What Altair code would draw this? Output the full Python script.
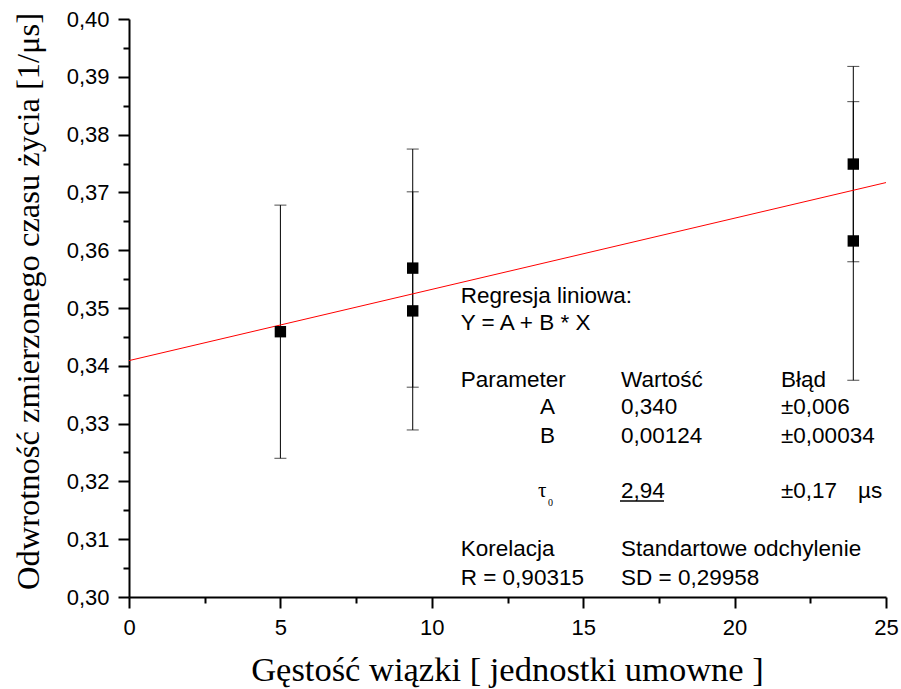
import altair as alt
import pandas as pd

# ---- data ----
beam_density = [5.0, 9.37, 9.37, 23.92, 23.92]
inv_lifetime = [0.3459, 0.3569, 0.3495, 0.3749, 0.3616]
inv_lifetime_err = [0.0219, 0.0206, 0.0206, 0.0169, 0.0241]

fit_x = [0.0, 25.0]
fit_y = [0.3409, 0.3717]

x_major_ticks = [0, 5, 10, 15, 20, 25]
x_minor_ticks = [2.5, 7.5, 12.5, 17.5, 22.5]
y_major_ticks = [0.30, 0.31, 0.32, 0.33, 0.34, 0.35, 0.36, 0.37, 0.38, 0.39, 0.40]
y_minor_ticks = [0.305, 0.315, 0.325, 0.335, 0.345, 0.355, 0.365, 0.375, 0.385, 0.395]

# annotation box (fit results), anchored in data coordinates
ann_text = ["Regresja liniowa:", "Y = A + B * X",
            "Parameter", "Wartość", "Błąd",
            "A", "0,340", "±0,006",
            "B", "0,00124", "±0,00034",
            "2,94", "±0,17", "µs",
            "Korelacja", "Standartowe odchylenie",
            "R = 0,90315", "SD = 0,29958"]
ann_x = [10.955, 10.955,
         10.955, 16.248, 21.532,
         13.573, 16.248, 21.532,
         13.573, 16.248, 21.532,
         16.248, 21.532, 24.075,
         10.955, 16.248,
         10.955, 16.248]
ann_y = [0.35092, 0.34619,
         0.33638, 0.33638, 0.33638,
         0.33166, 0.33166, 0.33166,
         0.32673, 0.32673, 0.32673,
         0.31708, 0.31708, 0.31708,
         0.30709, 0.30709,
         0.30208, 0.30208]

tau_text = ["τ"]
tau_x = [13.507]
tau_y = [0.31725]
tau_sub_text = ["0"]
tau_sub_x = [13.837]
tau_sub_y = [0.31574]
underline_x = [16.215]
underline_x2 = [17.668]
underline_y = [0.31661]

# ---- tables ----
pts = pd.DataFrame({"x": beam_density, "y": inv_lifetime, "err": inv_lifetime_err})
pts["lo"] = pts["y"] - pts["err"]
pts["hi"] = pts["y"] + pts["err"]
fit = pd.DataFrame({"x": fit_x, "y": fit_y})
ann = pd.DataFrame({"x": ann_x, "y": ann_y, "t": ann_text})
tau = pd.DataFrame({"x": tau_x, "y": tau_y, "t": tau_text})
tau_sub = pd.DataFrame({"x": tau_sub_x, "y": tau_sub_y, "t": tau_sub_text})
uline = pd.DataFrame({"x": underline_x, "x2": underline_x2, "y": underline_y})

xscale = alt.Scale(domain=[0, 25], nice=False, zero=False)
yscale = alt.Scale(domain=[0.30, 0.40], nice=False, zero=False)

common_axis = dict(grid=False, domainColor="black", domainWidth=2,
                   tickColor="black", tickWidth=2)

x_axis = alt.Axis(
    orient="bottom", values=x_major_ticks, tickSize=11, **common_axis,
    labelExpr="format(datum.value, 'd')",
    labelFont="Liberation Sans", labelFontSize=22, labelColor="black",
    labelPadding=9, labelOverlap=False, labelFlush=False,
    title="Gęstość wiązki [ jednostki umowne ]",
    titleFont="Liberation Serif", titleFontSize=34.5, titleFontWeight="normal",
    titleColor="black", titleBaseline="alphabetic", titleAlign="center",
    titleX=378, titleY=83,
)
y_axis = alt.Axis(
    orient="left", values=y_major_ticks, tickSize=11, **common_axis,
    labelExpr="replace(format(datum.value, '.2f'), '.', ',')",
    labelFont="Liberation Sans", labelFontSize=22, labelColor="black",
    labelPadding=9, labelOverlap=False, labelFlush=False,
    title="Odwrotność zmierzonego czasu życia [1/μs]",
    titleFont="Liberation Serif", titleFontSize=32.5, titleFontWeight="normal",
    titleColor="black", titleBaseline="alphabetic", titleAlign="center",
    titleAngle=270, titleX=-91, titleY=282,
)
x_minor_axis = alt.Axis(orient="bottom", values=x_minor_ticks, tickSize=6,
                        labels=False, domain=False, title=None, **common_axis)
y_minor_axis = alt.Axis(orient="left", values=y_minor_ticks, tickSize=6,
                        labels=False, domain=False, title=None, **common_axis)

bars = alt.Chart(pts).mark_rule(color="black", strokeWidth=1).encode(
    x=alt.X("x:Q", scale=xscale, axis=x_axis),
    y=alt.Y("lo:Q", scale=yscale, axis=y_axis),
    y2="hi:Q",
)
cap_lo = alt.Chart(pts).mark_tick(color="black", thickness=1, size=12, orient="horizontal").encode(
    x=alt.X("x:Q", scale=xscale, axis=x_minor_axis),
    y=alt.Y("lo:Q", scale=yscale, axis=y_minor_axis),
)
cap_hi = alt.Chart(pts).mark_tick(color="black", thickness=1, size=12, orient="horizontal").encode(
    x=alt.X("x:Q", scale=xscale, axis=None),
    y=alt.Y("hi:Q", scale=yscale, axis=None),
)
line = alt.Chart(fit).mark_line(color="#ff0000", strokeWidth=1).encode(
    x=alt.X("x:Q", scale=xscale, axis=None),
    y=alt.Y("y:Q", scale=yscale, axis=None),
)
squares = alt.Chart(pts).mark_square(size=130, color="black", opacity=1, filled=True).encode(
    x=alt.X("x:Q", scale=xscale, axis=None),
    y=alt.Y("y:Q", scale=yscale, axis=None),
)
texts = alt.Chart(ann).mark_text(
    align="left", baseline="alphabetic", font="Liberation Sans", fontSize=22.5, color="black"
).encode(
    x=alt.X("x:Q", scale=xscale, axis=None),
    y=alt.Y("y:Q", scale=yscale, axis=None),
    text="t:N",
)
tau_mark = alt.Chart(tau).mark_text(
    align="left", baseline="alphabetic", font="Liberation Serif", fontSize=21, color="black"
).encode(
    x=alt.X("x:Q", scale=xscale, axis=None),
    y=alt.Y("y:Q", scale=yscale, axis=None),
    text="t:N",
)
tau_sub_mark = alt.Chart(tau_sub).mark_text(
    align="left", baseline="alphabetic", font="Liberation Serif", fontSize=10, color="black"
).encode(
    x=alt.X("x:Q", scale=xscale, axis=None),
    y=alt.Y("y:Q", scale=yscale, axis=None),
    text="t:N",
)
under = alt.Chart(uline).mark_rule(color="black", strokeWidth=1.5).encode(
    x=alt.X("x:Q", scale=xscale, axis=None),
    x2="x2:Q",
    y=alt.Y("y:Q", scale=yscale, axis=None),
)

chart = alt.layer(bars, cap_lo, cap_hi, line, squares, texts, tau_mark, tau_sub_mark, under).resolve_axis(
    x="independent", y="independent"
).properties(
    width=757, height=578,
    autosize=alt.AutoSizeParams(type="none"),
    padding={"left": 129, "top": 19, "right": 15, "bottom": 92},
    background="white",
).configure_view(stroke=None)

chart.save("out.html", embed_options={"renderer": "svg", "actions": False})
